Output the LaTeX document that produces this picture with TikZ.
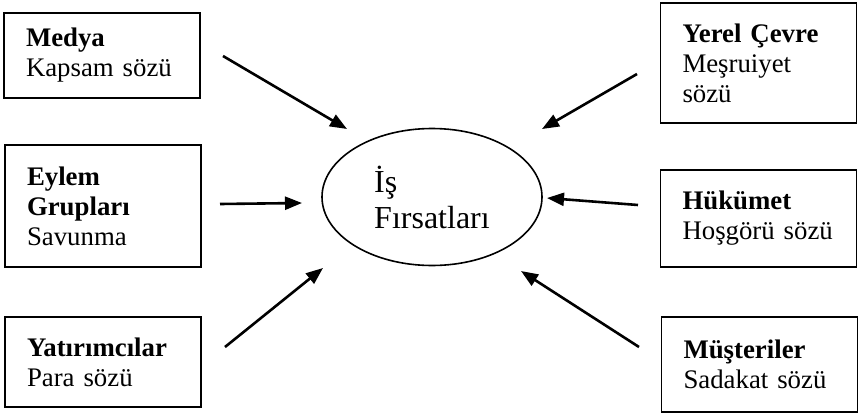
\documentclass[tikz,border=0pt]{standalone}
\usepackage{fontspec}
\setmainfont{Liberation Serif}
\usetikzlibrary{arrows.meta,shapes.geometric}
\begin{document}
\begin{tikzpicture}[x=1pt, y=-1pt, >={Triangle[length=17pt,width=13pt]}]
            \tikzset{
              kutu/.style={draw, line width=1.6pt, inner xsep=22pt, inner ysep=0pt,
                text width=152pt, minimum width=196pt, align=left,
                font=\fontsize{26.8}{30}\selectfont},
              ok/.style={->, line width=2.6pt}
            }
            \useasboundingbox (0,0) rectangle (858,415);

            % Merkez
            \node[ellipse, draw, line width=1.6pt, minimum width=220pt, minimum height=137pt,
                  inner sep=0pt, align=left, font=\fontsize{32}{36}\selectfont]
                  (firsat) at (432,197) {İş\\Fırsatları};

            % Sol kutular
            \node[kutu, minimum height=85pt]  (medya)  at (102,55.5) {\textbf{Medya}\\Kapsam sözü};
            \node[kutu, minimum height=122pt] (eylem)  at (103,206)  {\textbf{Eylem}\\\textbf{Grupları}\\Savunma};
            \node[kutu, minimum height=90pt]  (yatir)  at (103,362)  {\textbf{Yatırımcılar}\\Para sözü};

            % Sag kutular
            \node[kutu, minimum height=120pt] (yerel)  at (758.5,63)    {\textbf{Yerel Çevre}\\Meşruiyet\\sözü};
            \node[kutu, minimum height=97pt]  (hukum)  at (758.5,218.5) {\textbf{Hükümet}\\Hoşgörü sözü};
            \node[kutu, minimum height=95pt]  (muster) at (759.5,364.5) {\textbf{Müşteriler}\\Sadakat sözü};

            % Oklar (bas -> uc)
            \coordinate (medyaB)  at (223,56);  \coordinate (medyaU)  at (347,129);
            \coordinate (eylemB)  at (220,204); \coordinate (eylemU)  at (302,203);
            \coordinate (yatirB)  at (225,347); \coordinate (yatirU)  at (323,268);
            \coordinate (yerelB)  at (637,74);  \coordinate (yerelU)  at (542,129);
            \coordinate (hukumB)  at (638,205); \coordinate (hukumU)  at (547,198);
            \coordinate (musterB) at (639,347); \coordinate (musterU) at (521,271);

            \foreach \k in {medya, eylem, yatir, yerel, hukum, muster}
                \draw[ok] (\k B) -- (\k U);
        \end{tikzpicture}
\end{document}
